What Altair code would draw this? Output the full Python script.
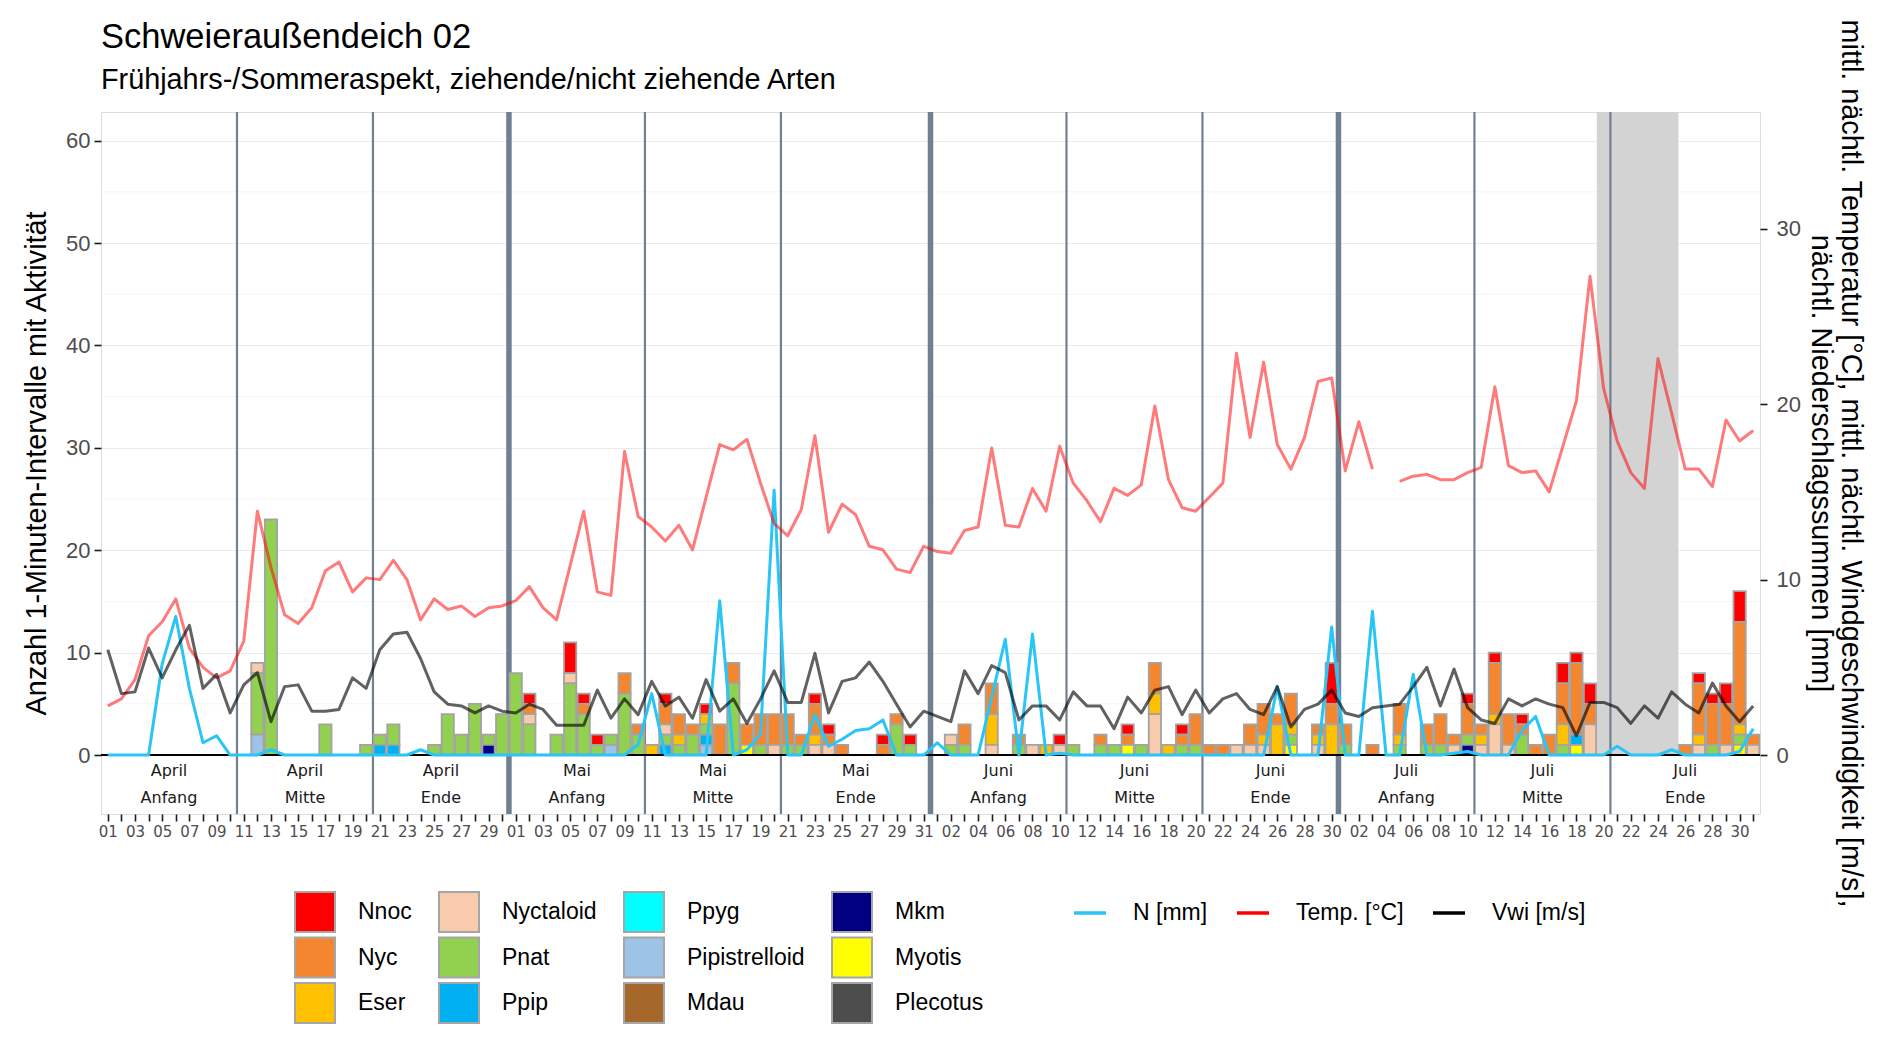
import altair as alt
import pandas as pd

# ---------------- calendar ----------------
months = ["April", "Mai", "Juni", "Juli"]
month_len = [30, 31, 30, 31]
decade_names = ["Anfang", "Mitte", "Ende"]
N_DAYS = sum(month_len)

# ---------------- species (stack order top -> bottom) ----------------
species = ["Nnoc", "Nyc", "Eser", "Nyctaloid", "Pnat", "Ppip", "Ppyg",
           "Pipistrelloid", "Mdau", "Mkm", "Myotis", "Plecotus"]
species_colors = ["#FF0000", "#F4862F", "#FFC000", "#F8CBAD", "#92D050", "#00B0F0",
                  "#00FFFF", "#9DC3E6", "#A5682A", "#000080", "#FFFF00", "#4D4D4D"]

# counts per day index (0 = 1 April)
Nnoc = {31: 1, 34: 3, 35: 1, 36: 1, 41: 1, 44: 1, 52: 1, 53: 1, 57: 1, 59: 1, 70: 1, 75: 1,
        79: 1, 90: 4, 100: 1, 102: 1, 104: 1, 107: 2, 108: 1, 109: 2, 117: 1, 118: 1,
        119: 2, 120: 3}
Nyc = {31: 1, 35: 1, 38: 2, 39: 1, 41: 2, 42: 2, 43: 1, 45: 3, 46: 2, 47: 2, 48: 3, 49: 3,
       50: 3, 51: 1, 52: 3, 53: 1, 54: 1, 57: 1, 58: 1, 63: 2, 65: 3, 67: 1, 73: 1, 75: 1,
       77: 3, 79: 1, 80: 3, 81: 1, 82: 1, 84: 2, 85: 3, 86: 1, 87: 3, 89: 1, 90: 2, 91: 2,
       93: 1, 95: 3, 97: 2, 98: 3, 99: 1, 100: 3, 101: 1, 102: 5, 103: 3, 104: 1, 105: 1,
       106: 2, 107: 4, 108: 7, 109: 2, 116: 1, 117: 5, 118: 4, 119: 4, 120: 10, 121: 1}
Eser = {40: 1, 42: 1, 44: 1, 52: 1, 65: 3, 69: 1, 77: 2, 78: 1, 85: 1, 86: 3, 87: 1, 89: 1,
        90: 3, 95: 1, 101: 1, 102: 1, 107: 2, 117: 1, 120: 1}
Nyctaloid = {11: 1, 31: 1, 34: 1, 41: 1, 49: 1, 52: 1, 53: 1, 62: 1, 65: 1, 68: 1, 70: 1,
             77: 4, 83: 1, 84: 1, 85: 1, 89: 1, 99: 1, 101: 1, 102: 3, 103: 1, 109: 3,
             117: 1, 119: 1, 121: 1}
Pnat = {11: 6, 12: 23, 16: 3, 19: 1, 20: 1, 21: 2, 24: 1, 25: 4, 26: 2, 27: 5, 28: 1, 29: 4,
        30: 8, 31: 3, 33: 2, 34: 7, 35: 4, 36: 1, 37: 1, 38: 6, 39: 2, 41: 1, 42: 1, 43: 2,
        44: 1, 46: 7, 48: 1, 50: 1, 51: 1, 58: 3, 59: 1, 62: 1, 63: 1, 67: 1, 71: 1, 73: 1,
        74: 1, 76: 1, 79: 1, 80: 1, 87: 1, 91: 1, 95: 1, 97: 1, 98: 1, 100: 1, 104: 2,
        107: 1, 118: 1, 120: 1}
Ppip = {20: 1, 21: 1, 41: 1, 44: 1, 108: 1}
Ppyg = {}
Pipistrelloid = {11: 2, 37: 1, 44: 1}
Mdau = {}
Mkm = {28: 1, 100: 1}
Myotis = {47: 1, 75: 1, 87: 1, 108: 1, 120: 1}
Plecotus = {}
counts = [Nnoc, Nyc, Eser, Nyctaloid, Pnat, Ppip, Ppyg, Pipistrelloid, Mdau, Mkm, Myotis, Plecotus]

# ---------------- weather (right axis) ----------------
temp = [2.8, 3.2, 4.3, 6.8, 7.6, 8.9, 6.1, 5.0, 4.4, 4.8,
        6.5, 13.9, 10.7, 8.0, 7.5, 8.4, 10.5, 11.0, 9.3, 10.1,
        10.0, 11.1, 10.0, 7.7, 8.9, 8.3, 8.5, 7.9, 8.4, 8.5,
        8.8, 9.6, 8.4, 7.7, 10.8, 13.9, 9.3, 9.1, 17.3, 13.6,
        13.0, 12.2, 13.1, 11.7, 14.7, 17.7, 17.4, 18.0, 15.5, 13.2,
        12.5, 14.0, 18.2, 12.7, 14.3, 13.7, 11.9, 11.7, 10.6, 10.4,
        11.9, 11.6, 11.5, 12.8, 13.0, 17.5, 13.1, 13.0, 15.2, 13.9,
        17.6, 15.5, 14.5, 13.3, 15.2, 14.8, 15.4, 19.9, 15.7, 14.1,
        13.9, 14.7, 15.5, 22.9, 18.1, 22.4, 17.7, 16.3, 18.1, 21.3,
        21.5, 16.2, 19.0, 16.3, None, 15.6, 15.9, 16.0, 15.7, 15.7,
        16.1, 16.4, 21.0, 16.5, 16.1, 16.2, 15.0, 17.6, 20.2, 27.3,
        20.9, 17.9, 16.1, 15.2, 22.6, 19.5, 16.3, 16.3, 15.3, 19.1,
        17.9, 18.5]
wind = [6.0, 3.5, 3.6, 6.1, 4.4, 6.0, 7.4, 3.8, 4.6, 2.4,
        4.0, 4.7, 1.9, 3.9, 4.0, 2.5, 2.5, 2.6, 4.4, 3.8,
        6.0, 6.9, 7.0, 5.5, 3.6, 2.9, 2.8, 2.4, 2.8, 2.5,
        2.4, 2.9, 2.6, 1.7, 1.7, 1.7, 3.7, 2.1, 3.2, 2.3,
        4.2, 2.8, 3.3, 2.1, 4.3, 2.5, 3.2, 1.8, 3.2, 4.8,
        3.0, 3.0, 5.8, 2.4, 4.2, 4.4, 5.3, 4.2, 2.9, 1.6,
        2.5, 2.2, 1.9, 4.8, 3.5, 5.1, 4.7, 2.0, 2.8, 2.8,
        2.0, 3.6, 2.8, 2.8, 1.5, 3.3, 2.4, 3.7, 3.9, 2.3,
        3.7, 2.4, 3.2, 3.5, 2.6, 2.3, 3.9, 1.6, 2.6, 2.9,
        3.7, 2.4, 2.2, 2.7, 2.8, 2.9, 3.9, 5.0, 2.8, 4.9,
        2.7, 2.0, 1.8, 3.2, 2.8, 3.2, 2.9, 2.7, 1.1, 3.0,
        3.0, 2.7, 1.8, 2.8, 2.1, 3.6, 2.9, 2.4, 4.1, 2.8,
        1.9, 2.8]
rain = [0, 0, 0, 0, 5.2, 7.9, 3.8, 0.7, 1.1, 0,
        0, 0, 0.3, 0, 0, 0, 0, 0, 0, 0,
        0, 0, 0, 0.3, 0, 0, 0, 0, 0, 0,
        0, 0, 0, 0, 0, 0, 0, 0, 0, 0.6,
        3.5, 0, 0, 0, 0, 8.8, 0, 0.3, 1.2, 15.1,
        0, 0, 2.3, 0.5, 0.9, 1.4, 1.5, 2.0, 0, 0,
        0, 0.7, 0, 0, 0, 3.3, 6.6, 0, 6.9, 0,
        0.1, 0, 0, 0, 0, 0, 0, 0, 0, 0,
        0, 0, 0, 0, 0, 0, 3.9, 0, 0, 0,
        7.3, 0, 0, 8.2, 0, 0, 4.6, 0, 0, 0.1,
        0.2, 0, 0, 0, 1.4, 2.2, 0, 0, 0, 0,
        0, 0.5, 0, 0, 0, 0.3, 0, 0, 0, 0,
        0.2, 1.5]
line_names = ["N [mm]", "Temp. [°C]", "Vwi [m/s]"]
line_colors = ["#29C5F6", "#FF0000", "#000000"]
line_opacity = [1.0, 0.52, 0.62]

# shaded period (day indices, inclusive): 20.-25. Juli
shade_first, shade_last = 110, 115

# ---------------- derived tables ----------------
month_start = [sum(month_len[:k]) for k in range(len(months))]
tick_labels = []
for m, ln in enumerate(month_len):
    for d in range(1, ln + 1):
        idx = month_start[m] + d - 1
        tick_labels.append(f"{d:02d}" if idx % 2 == 0 else "")

rules = []
labels = []
for m, (s, ln) in enumerate(zip(month_start, month_len)):
    rules.append({"pos": s + 9.5, "kind": "decade"})
    rules.append({"pos": s + 19.5, "kind": "decade"})
    if m < len(months) - 1:
        rules.append({"pos": s + ln - 0.5, "kind": "month"})
    bounds = [(s, s + 9), (s + 10, s + 19), (s + 20, s + ln - 1)]
    for name, (a, b) in zip(decade_names, bounds):
        labels.append({"center": (a + b) / 2, "label": f"{months[m]}\n{name}"})
rules_df = pd.DataFrame(rules)
labels_df = pd.DataFrame(labels)

bar_rows = []
for rank, (sp, cdict) in enumerate(zip(species, counts)):
    for day, c in cdict.items():
        bar_rows.append({"day": day, "species": sp, "count": c, "rank": rank})
bar_df = pd.DataFrame(bar_rows)

line_rows = []
for name, vals in zip(line_names, [rain, temp, wind]):
    seg = 0
    for i, v in enumerate(vals):
        if v is None:
            seg += 1
            continue
        line_rows.append({"day": i, "value": v, "var": name, "seg": seg})
line_df = pd.DataFrame(line_rows)

# ---------------- geometry ----------------
W, H = 1659, 702
L_MIN, L_MAX = -5.76, 62.8
FACTOR = 1.713
R_MIN, R_MAX = L_MIN / FACTOR, L_MAX / FACTOR
STRIP_LINE_H = 27
px_per_unit = H / (L_MAX - L_MIN)
strip_y = L_MIN / 2 + (STRIP_LINE_H / 2) / px_per_unit

x_scale = alt.Scale(domain=[-0.5, N_DAYS - 0.5], nice=False, zero=False)
label_js = "[" + ",".join(f"'{t}'" for t in tick_labels) + "][datum.value]"
x_axis = alt.Axis(values=list(range(N_DAYS)), labelExpr=label_js, title=None, grid=False,
                  domain=False, tickColor="#1A1A1A", tickWidth=1.6, tickSize=7,
                  labelFont="DejaVu Sans", labelFontSize=15, labelColor="#4D4D4D",
                  labelPadding=3, labelAngle=0, labelOverlap=False, labelFlush=False)

yl_scale = alt.Scale(domain=[L_MIN, L_MAX], nice=False, zero=False)
yl_axis = alt.Axis(values=list(range(0, 61, 10)), orient="left",
                   title="Anzahl 1-Minuten-Intervalle mit Aktivität",
                   grid=True, gridColor="#EBEBEB", gridWidth=1.2, domain=False,
                   tickColor="#1A1A1A", tickWidth=1.6, tickSize=7,
                   labelFont="Liberation Sans", labelFontSize=22, labelColor="#4D4D4D",
                   labelPadding=4, titleFont="Liberation Sans", titleFontSize=28.8,
                   titleFontWeight="normal", titleColor="black", titlePadding=14)

yr_scale = alt.Scale(domain=[R_MIN, R_MAX], nice=False, zero=False)
yr_axis = alt.Axis(values=[0, 10, 20, 30], orient="right",
                   title=["mittl. nächtl. Temperatur [°C], mittl. nächtl. Windgeschwindigkeit [m/s],",
                          "nächtl. Niederschlagssummen [mm]"],
                   grid=False, domain=False, tickColor="#1A1A1A", tickWidth=1.6, tickSize=7,
                   labelFont="Liberation Sans", labelFontSize=22, labelColor="#4D4D4D",
                   labelPadding=9, titleFont="Liberation Sans", titleFontSize=28.8,
                   titleFontWeight="normal", titleColor="black", titlePadding=5,
                   titleAngle=90, titleLineHeight=30)

color_legend = alt.Legend(title=None, orient="none", legendX=193, legendY=779, columns=4,
                          symbolType="square", symbolSize=1600, symbolStrokeColor="#A6A6A6",
                          symbolStrokeWidth=2, symbolOpacity=1, labelFont="Liberation Sans",
                          labelFontSize=23, labelColor="black", labelOffset=22, rowPadding=-2.5,
                          columnPadding=23, padding=0, gridAlign="each")
stroke_legend = alt.Legend(title=None, orient="none", legendX=971, legendY=783,
                           direction="horizontal", symbolType="stroke", symbolSize=1024,
                           symbolStrokeWidth=3.5, labelFont="Liberation Sans", labelFontSize=23,
                           labelColor="black", labelOffset=25, columnPadding=22, padding=0)

# ---------------- layers on the left scale ----------------
minor_grid = pd.DataFrame({"g": list(range(5, 60, 10))})
grid_minor = alt.Chart(minor_grid).mark_rule(color="#F4F4F4", strokeWidth=1).encode(
    y=alt.Y("g:Q", scale=yl_scale, axis=yl_axis))

shade = alt.Chart(pd.DataFrame({"first": [shade_first], "last": [shade_last], "base": [0]})
                  ).transform_calculate(x0="datum.first - 0.5", x1="datum.last + 0.5"
                  ).mark_rect(color="#D3D3D3").encode(
    x=alt.X("x0:Q", scale=x_scale, axis=x_axis), x2="x1:Q",
    y=alt.Y("base:Q", scale=yl_scale, axis=yl_axis), y2=alt.value(0))

vlines = alt.Chart(rules_df).mark_rule(color="#708090").encode(
    x=alt.X("pos:Q", scale=x_scale, axis=x_axis),
    strokeWidth=alt.StrokeWidth("kind:N", scale=alt.Scale(domain=["decade", "month"], range=[2.2, 5.5]),
                                legend=None))

bars = alt.Chart(bar_df).transform_calculate(
    x0="datum.day - 0.45", x1="datum.day + 0.45"
).transform_stack(
    stack="count", groupby=["day"], as_=["y0", "y1"],
    sort=[alt.SortField("rank", order="descending")]
).mark_bar(stroke="#A3A3A3", strokeWidth=1.8).encode(
    x=alt.X("x0:Q", scale=x_scale, axis=x_axis), x2="x1:Q",
    y=alt.Y("y0:Q", scale=yl_scale, axis=yl_axis), y2="y1:Q",
    color=alt.Color("species:N", scale=alt.Scale(domain=species, range=species_colors),
                    legend=color_legend))

zero = alt.Chart(pd.DataFrame({"z": [0]})).mark_rule(color="black", strokeWidth=2).encode(
    y=alt.Y("z:Q", scale=yl_scale, axis=yl_axis))

strip_text = alt.Chart(labels_df).transform_calculate(ypos=str(strip_y)).mark_text(
    font="DejaVu Sans", fontSize=16, lineBreak="\n", lineHeight=STRIP_LINE_H, baseline="middle",
    align="center", color="#1A1A1A").encode(
    x=alt.X("center:Q", scale=x_scale, axis=x_axis),
    y=alt.Y("ypos:Q", scale=yl_scale, axis=yl_axis),
    text="label:N")

left = alt.layer(grid_minor, shade, vlines, bars, zero, strip_text)

# ---------------- lines on the right scale ----------------
line_layers = []
for name, op in zip(line_names, line_opacity):
    line_layers.append(
        alt.Chart(line_df).transform_filter(alt.datum.var == name
        ).mark_line(strokeWidth=3, strokeJoin="round", opacity=op).encode(
            x=alt.X("day:Q", scale=x_scale, axis=x_axis),
            y=alt.Y("value:Q", scale=yr_scale, axis=yr_axis),
            detail="seg:N",
            stroke=alt.Stroke("var:N", scale=alt.Scale(domain=line_names, range=line_colors),
                              legend=stroke_legend)))
right = alt.layer(*line_layers)

chart = alt.layer(left, right).resolve_scale(y="independent").properties(
    width=W, height=H,
    autosize=alt.AutoSizeParams(type="none"),
    padding={"left": 93, "top": 104, "right": 110, "bottom": 215},
    title=alt.TitleParams(
        text="Schweieraußendeich 02",
        subtitle="Frühjahrs-/Sommeraspekt, ziehende/nicht ziehende Arten",
        anchor="start", frame="group", font="Liberation Sans", fontSize=34.5,
        fontWeight="normal", color="black", subtitleFont="Liberation Sans",
        subtitleFontSize=28.8, subtitleColor="black", subtitlePadding=10, offset=-77)
).configure_view(stroke="black", strokeWidth=2).configure(background="white")

chart.save("out.html", embed_options={"renderer": "svg", "actions": False})
